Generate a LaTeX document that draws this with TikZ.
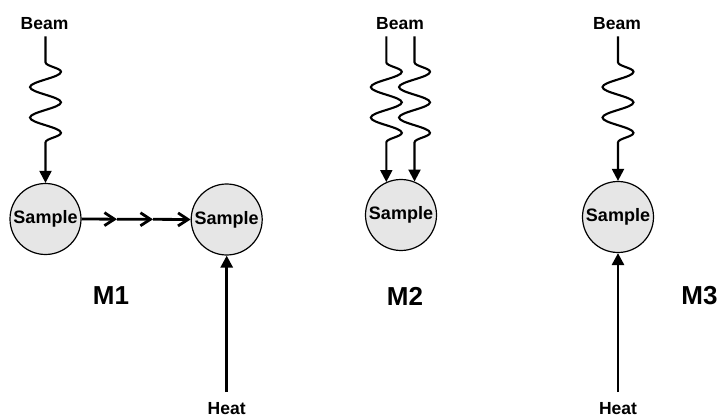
\documentclass[tikz,border=0pt]{standalone}
\usepackage{fontspec}
\setmainfont{Liberation Sans}
\usetikzlibrary{arrows.meta,decorations.pathmorphing}
\begin{document}
\begin{tikzpicture}[x=1pt,y=-1pt,
  sample/.style={circle,draw=black,line width=1.2pt,fill={rgb,255:red,230;green,230;blue,230},
    minimum size=71pt,inner sep=0pt,font=\fontsize{18}{20}\selectfont\bfseries},
  beamlbl/.style={inner xsep=0pt,inner ysep=6.5pt,font=\fontsize{17.5}{19}\selectfont\bfseries},
  heatlbl/.style={inner xsep=0pt,inner ysep=10pt,font=\fontsize{17.5}{19}\selectfont\bfseries},
  mlbl/.style={inner sep=0pt,font=\fontsize{26}{28}\selectfont\bfseries},
  wave/.style={line width=2.1pt,-{Triangle[length=12pt,width=12pt]},decorate,
    decoration={snake,amplitude=15.5pt,segment length=30.5pt,pre length=26pt,post length=27pt}},
  heatarrow/.style={line width=2.8pt,-{Triangle[length=12pt,width=12pt]}},
  flow/.style={line width=2.8pt,-{Straight Barb[length=10pt,width=13pt]}}
]
\useasboundingbox (0,0) rectangle (721,417);

% M1
\node[sample] (s1) at (45.5,219) {Sample};
\node[sample] (s1b) at (226.7,219.5) {Sample};
\node[beamlbl] (b1) at (44.5,23.5) {Beam};
\node[heatlbl] (h1) at (226.7,408.5) {Heat};
\coordinate (m1) at (117,219.2);
\coordinate (m2) at (153,219.3);
\draw[wave] (s1.north |- b1.south) -- (s1.north);
\draw[flow] (s1.east) -- (m1);
\draw[flow] (m1) -- (m2);
\draw[flow] (m2) -- (s1b.west);
\draw[heatarrow] (h1.north) -- (s1b.south);
\node[mlbl] (M1) at (111,296) {M1};

% M2
\node[sample] (s2) at (401,215) {Sample};
\node[beamlbl] (b2) at (400,23.5) {Beam};
\draw[wave] (s2.114 |- b2.south) -- (s2.114);
\draw[wave] (s2.68 |- b2.south) -- (s2.68);
\node[mlbl] (M2) at (405,296) {M2};

% M3
\node[sample] (s3) at (618,217) {Sample};
\node[beamlbl] (b3) at (617,23.5) {Beam};
\node[heatlbl] (h3) at (618,408.5) {Heat};
\draw[wave] (s3.north |- b3.south) -- (s3.north);
\draw[heatarrow] (h3.north) -- (s3.south);
\node[mlbl] (M3) at (699.5,296) {M3};
\end{tikzpicture}
\end{document}
